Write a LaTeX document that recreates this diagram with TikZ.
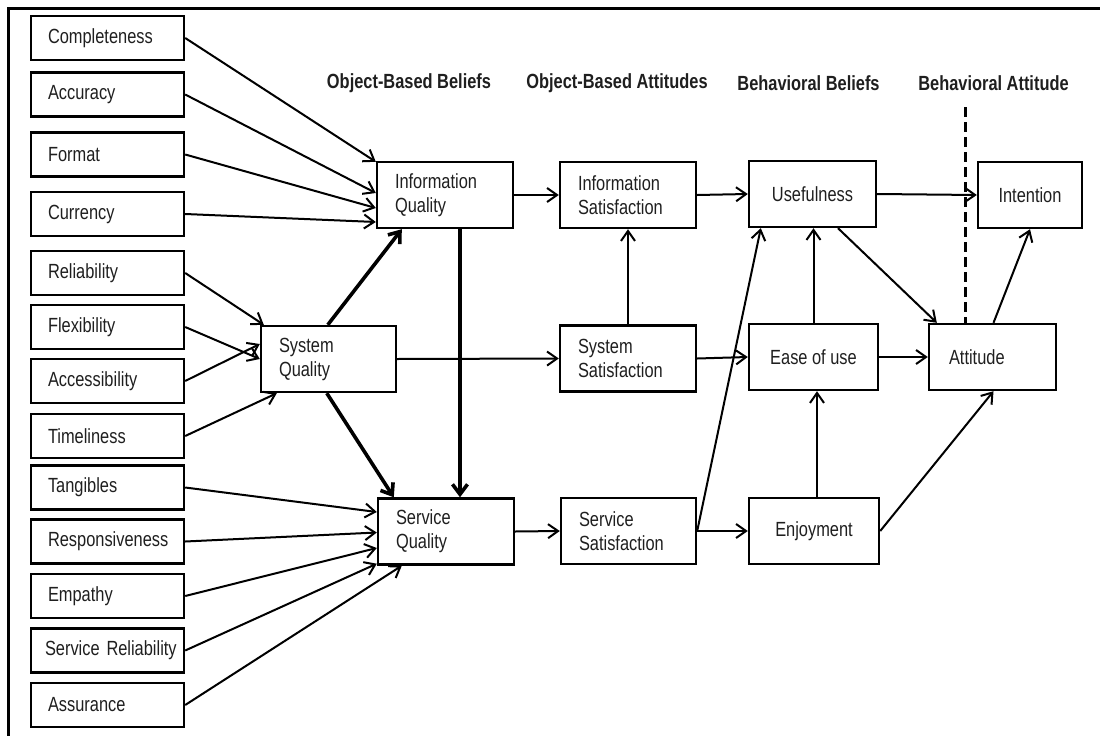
\documentclass[tikz,border=0pt]{standalone}
\usepackage{fontspec}
\setmainfont[FakeStretch=0.8]{Liberation Sans}
\usetikzlibrary{arrows.meta}
\begin{document}
\begin{tikzpicture}[x=1pt,y=-1pt,
  txt/.style={font=\fontsize{20.5}{24}\selectfont, text=black!88},
  factor/.style={txt, draw=black, line width=2.4pt, inner ysep=0pt,
    minimum height=44pt, inner xsep=17pt, text width=119pt, align=left},
  lbox/.style={txt, draw=black, line width=2.4pt, inner ysep=0pt,
    minimum height=66pt, inner xsep=18pt, align=left},
  cbox/.style={txt, draw=black, line width=2.4pt, inner sep=0pt,
    minimum height=66pt, align=center},
  hdr/.style={txt, font=\fontsize{20.5}{24}\selectfont\bfseries, inner sep=0pt},
  link/.style={line width=2pt, -{Straight Barb[length=10pt,width=14pt]}},
  strong/.style={line width=3.6pt, -{Straight Barb[length=10pt,width=15pt]}}
]
\useasboundingbox (0,0) rectangle (1100,736);
% partial frame
\draw[line width=2.2pt] (1100,8.5) -- (8.5,8.5) -- (8.5,736);

% column headings
\node[hdr] (hOB) at (409,83) {Object-Based Beliefs};
\node[hdr] (hOA) at (617,83) {Object-Based Attitudes};
\node[hdr] (hBB) at (808.5,83) {Behavioral Beliefs};
\node[hdr] (hBA) at (993.5,83) {Behavioral Attitude};

% antecedent factors
\node[factor] (comp) at (107.5,38)  {Completeness};
\node[factor] (accu) at (107.5,94.5) {Accuracy};
\node[factor] (form) at (107.5,154.5) {Format};
\node[factor] (curr) at (107.5,214) {Currency};
\node[factor] (reli) at (107.5,273) {Reliability};
\node[factor] (flex) at (107.5,327) {Flexibility};
\node[factor] (acce) at (107.5,381) {Accessibility};
\node[factor] (time) at (107.5,436) {Timeliness};
\node[factor] (tang) at (107.5,487.5) {Tangibles};
\node[factor] (resp) at (107.5,541.5) {Responsiveness};
\node[factor] (empa) at (107.5,596) {Empathy};
\node[factor, inner xsep=14pt, text width=125pt] (srel) at (107.5,650.5) {\mbox{Service Reliability}};
\node[factor] (assu) at (107.5,705) {Assurance};

% constructs
\node[lbox, text width=100pt] (iq) at (445,195) {Information\\Quality};
\node[lbox, text width=99pt] (sysq) at (328.5,359) {System\\Quality};
\node[lbox, text width=100pt] (servq) at (446,531.5) {Service\\Quality};
\node[lbox, text width=100pt] (isat) at (628,195) {Information\\Satisfaction};
\node[lbox, text width=100pt] (ssat) at (628,358.5) {System\\Satisfaction};
\node[lbox, text width=99pt] (vsat) at (628.5,531) {Service\\Satisfaction};
\node[cbox, minimum width=127pt] (use) at (812.5,194) {Usefulness};
\node[cbox, minimum width=129pt] (ease) at (813.5,357) {Ease of use};
\node[cbox, minimum width=130pt] (enj) at (814,531) {Enjoyment};
\node[lbox, inner xsep=20pt, text width=87pt] (att) at (992.5,357) {Attitude};
\node[cbox, minimum width=104pt] (int) at (1030,195) {Intention};

% boundary between beliefs and attitude
\coordinate (dtop) at (965,107);
\draw[line width=3pt, dash pattern=on 10pt off 5pt] (dtop) -- (dtop |- att.north);

% factors -> information quality
\draw[link] (comp.east) -- ([yshift=-1pt]iq.north west);
\draw[link] (accu.east) -- ([yshift=2pt]iq.west);
\draw[link] (form.east) -- ([yshift=-13pt]iq.west);
\draw[link] (curr.east) -- ([yshift=-27pt]iq.west);

% factors -> system quality
\draw[link] (reli.east) -- ([xshift=4pt]sysq.north west);
\draw[link] (flex.east) -- (sysq.west);
\draw[link] (acce.east) -- ([yshift=15pt]sysq.west);
\draw[link] (time.east) -- ([xshift=17pt]sysq.south west);

% factors -> service quality
\draw[link] (tang.east) -- ([yshift=19.5pt]servq.west);
\draw[link] (resp.east) -- ([yshift=-1pt]servq.west);
\draw[link] (empa.east) -- ([yshift=-16.5pt]servq.west);
\draw[link] (srel.east) -- ([yshift=2pt]servq.south west);
\draw[link] (assu.east) -- ([xshift=25pt]servq.south west);

% paths among quality constructs
\draw[strong] ([xshift=68pt]sysq.north west) -- ([xshift=26pt]iq.south west);
\draw[strong] ([xshift=67pt]sysq.south west) -- ([xshift=17pt]servq.north west);
\draw[strong] ([xshift=15pt]iq.south) -- ([xshift=14pt]servq.north);

% quality -> satisfaction
\draw[link] (iq.east) -- (isat.west);
\draw[link] (sysq.east) -- (ssat.west);
\draw[link] (servq.east) -- (vsat.west);
\draw[link] (ssat.north) -- (isat.south);

% satisfaction -> behavioral beliefs
\draw[link] (isat.east) -- (use.west);
\draw[link] (ssat.east) -- (ease.west);
\draw[link] (vsat.east) -- (enj.west);
\draw[link] (vsat.east) -- ([xshift=13pt]use.south west);
\draw[link] (ease.north) -- (ease.north |- use.south);
\draw[link] ([xshift=3pt]enj.north) -- ([xshift=3pt]enj.north |- ease.south);

% behavioral beliefs -> attitude and intention
\draw[link] ([xshift=25.5pt]use.south) -- ([xshift=9pt]att.north west);
\draw[link] (use.east) -- (int.west);
\draw[link] (ease.east) -- (att.west);
\draw[link] ([xshift=1pt]att.north) -- (int.south);
\draw[link] (enj.east) -- ([xshift=1pt]att.south);
\end{tikzpicture}
\end{document}
